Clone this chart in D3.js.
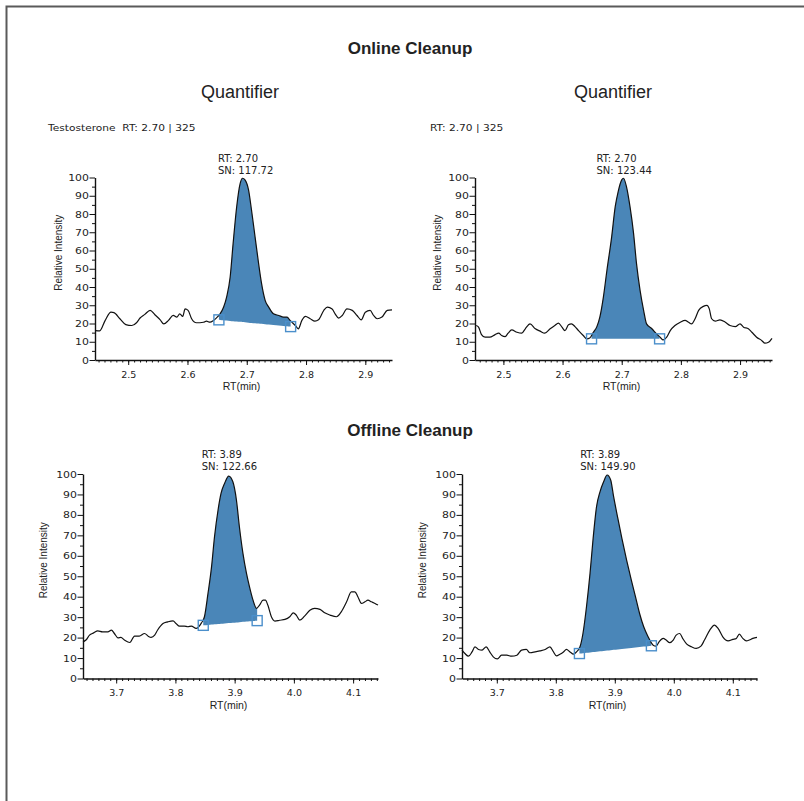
<!DOCTYPE html>
<html>
<head>
<meta charset="utf-8">
<script src="https://cdn.jsdelivr.net/npm/d3@7"></script>
<style>
  body { margin: 0; background: #fff; }
  svg { display: block; }
  text { fill: #222; }
</style>
</head>
<body>
<svg id="chart" width="804" height="801"></svg>
<script>
// ---- data: [RT (min), relative intensity] ----
var onlineQuantA = [
  [2.445,16.1],[2.452,16],[2.461,21.6],[2.471,26.2],[2.476,26],[2.486,22.6],[2.496,19.4],
  [2.506,18.9],[2.514,20.4],[2.520,23],[2.528,25],[2.537,27.2],[2.545,24.8],[2.554,22],
  [2.560,19.8],[2.568,21.7],[2.576,24.4],[2.582,23.5],[2.587,25.3],[2.592,23.9],[2.596,28],
  [2.601,27.2],[2.607,22.6],[2.615,20.4],[2.627,20.7],[2.632,21.3],[2.638,20.7],[2.644,21.7],
  [2.649,23.1],[2.655,25.3],[2.661,29],[2.666,34.5],[2.672,45.5],[2.677,63.9],[2.683,84],
  [2.689,96.9],[2.693,99.6],[2.697,98.7],[2.703,93.2],[2.708,82.2],[2.714,67.5],[2.720,52.8],
  [2.725,41.8],[2.731,32.7],[2.737,29],[2.745,25.3],[2.754,24.4],[2.762,23.5],[2.768,23.5],
  [2.773,21.7],[2.782,18.9],[2.787,17.1],[2.793,21.7],[2.799,23.9],[2.807,22.6],[2.815,21.3],
  [2.821,22],[2.830,27.2],[2.836,29],[2.844,28],[2.849,25.3],[2.855,23],[2.861,24.4],
  [2.869,28],[2.878,27.2],[2.886,24.4],[2.893,22],[2.900,26.2],[2.908,27.2],[2.914,24.4],
  [2.920,22.6],[2.928,23.5],[2.937,27.2],[2.945,27.5]
];
var onlineQuantB = [
  [2.454,18.9],[2.458,18],[2.463,13.9],[2.469,12.5],[2.477,12.5],[2.486,13.9],[2.492,14.7],
  [2.497,13.4],[2.503,12.8],[2.508,14.7],[2.514,16.5],[2.523,15.2],[2.531,14.7],[2.537,17.1],
  [2.545,19.8],[2.554,17.1],[2.562,15.8],[2.570,14.7],[2.579,17.1],[2.587,18.9],[2.593,20.2],
  [2.599,18],[2.604,16.1],[2.610,19.3],[2.615,19.8],[2.621,18.3],[2.627,16.1],[2.635,13.4],
  [2.641,11.6],[2.646,12.1],[2.652,15.2],[2.658,18.3],[2.663,23.5],[2.669,34.5],[2.675,49.2],
  [2.683,67.5],[2.689,84],[2.694,92.3],[2.700,98.7],[2.703,99.6],[2.708,95],[2.714,84],
  [2.720,69.4],[2.725,52.8],[2.731,38.2],[2.737,27.2],[2.742,19.8],[2.751,17.1],[2.759,14.3],
  [2.765,12.5],[2.770,11],[2.776,12.5],[2.782,16.1],[2.790,18.9],[2.799,20.7],[2.807,21.7],
  [2.813,20.7],[2.818,19.8],[2.824,22.6],[2.830,27.2],[2.838,29.4],[2.844,29.9],[2.848,28],
  [2.852,22.6],[2.858,21.3],[2.866,22],[2.875,20.7],[2.883,18.9],[2.892,18.3],[2.900,19.8],
  [2.906,18],[2.914,17.1],[2.920,15.2],[2.928,12.5],[2.937,10.6],[2.942,9.2],[2.948,9.7],
  [2.954,11.9]
];
var offlineQuantA = [
  [3.644,17.9],[3.649,18.8],[3.655,21.2],[3.662,22.3],[3.669,23.3],[3.677,22.8],[3.686,22.8],
  [3.692,23.7],[3.697,22],[3.703,19.9],[3.708,20.1],[3.714,18.8],[3.723,17.6],[3.731,20.7],
  [3.739,20.7],[3.748,22],[3.754,20.7],[3.759,20.1],[3.765,21.2],[3.770,23.7],[3.779,26.9],
  [3.787,27.7],[3.796,28.2],[3.801,26.9],[3.807,25.6],[3.815,25.6],[3.821,25.3],[3.827,25.6],
  [3.835,24.5],[3.844,27.2],[3.849,30.2],[3.855,41.6],[3.861,54.6],[3.866,69.3],[3.872,82.4],
  [3.877,90.5],[3.883,95.4],[3.890,99],[3.897,96.2],[3.903,87.3],[3.908,74.2],[3.914,61.2],
  [3.920,51.4],[3.925,44.9],[3.931,38.3],[3.937,34.3],[3.942,35.9],[3.948,38.3],[3.952,38.3],
  [3.956,35.9],[3.962,30.2],[3.968,28.1],[3.976,28.5],[3.985,28.9],[3.993,30.2],[3.999,32.1],
  [4.004,31],[4.010,28.5],[4.018,30.5],[4.027,33.4],[4.035,34.3],[4.044,33.8],[4.052,32.1],
  [4.061,31],[4.072,30.2],[4.080,32.6],[4.089,37.5],[4.097,42.4],[4.103,42.4],[4.108,40],
  [4.114,36.7],[4.120,37.5],[4.125,38.3],[4.131,37.5],[4.137,36.7],[4.142,35.9]
];
var offlineQuantB = [
  [3.641,13.9],[3.646,12.2],[3.652,10.9],[3.658,13],[3.663,15.5],[3.669,14.2],[3.675,13.9],
  [3.682,15.5],[3.688,13],[3.694,10.6],[3.701,9.6],[3.708,11.4],[3.717,11.4],[3.725,10.9],
  [3.734,11.4],[3.742,13.9],[3.750,14.2],[3.756,12.6],[3.765,13],[3.773,13.5],[3.782,14.2],
  [3.790,15.5],[3.796,13],[3.801,11.1],[3.807,11.9],[3.813,13],[3.818,14.2],[3.824,13],
  [3.830,11.9],[3.835,13],[3.841,15.5],[3.846,22],[3.852,35.1],[3.858,51.4],[3.863,67.7],
  [3.869,84],[3.875,91.4],[3.881,96.2],[3.887,99.5],[3.893,97.1],[3.898,88.9],[3.905,78.5],
  [3.912,68.5],[3.920,57.9],[3.928,48.1],[3.935,40],[3.942,31.8],[3.949,25.3],[3.956,20.7],
  [3.965,16.3],[3.970,15.8],[3.975,17.9],[3.982,19.6],[3.987,18.8],[3.993,17.5],[3.999,18.8],
  [4.004,21.2],[4.010,22],[4.015,19.6],[4.022,16.8],[4.030,15.5],[4.038,14.7],[4.046,15.8],
  [4.052,18.8],[4.061,23.7],[4.069,26.1],[4.075,24.5],[4.083,20.4],[4.092,18.4],[4.100,19.1],
  [4.106,19.6],[4.111,21.7],[4.117,19.6],[4.123,18.4],[4.128,18.8],[4.134,19.6],[4.141,20.1]
];

// peak integration: baseline start / end [RT, intensity], apex RT, labels
var peakStart = [[2.653,22],[2.649,11.6],[3.847,26],[3.840,12.2]];
var peakEnd   = [[2.774,18.3],[2.764,11.6],[3.938,28.3],[3.962,16]];
var apexRt    = [2.697, 2.703, 3.890, 3.887];
var rtLabels  = ['2.70', '2.70', '3.89', '3.89'];
var snLabels  = ['117.72', '123.44', '122.66', '149.90'];
var panelTitles = ['Testosterone  RT: 2.70 | 325', 'RT: 2.70 | 325', '', ''];
var xTicksOnline  = [2.5, 2.6, 2.7, 2.8, 2.9];
var xTicksOffline = [3.7, 3.8, 3.9, 4.0, 4.1];
var yTicks = [0, 10, 20, 30, 40, 50, 60, 70, 80, 90, 100];

// ---- layout ----
var panels = [
  { trace: onlineQuantA,  dom: [2.444, 2.945], xr: [95, 392],  yr: [360, 177.5], ticks: xTicksOnline,  ylab: 58,  tx: 48 },
  { trace: onlineQuantB,  dom: [2.452, 2.954], xr: [475, 772], yr: [360, 177.5], ticks: xTicksOnline,  ylab: 437, tx: 430 },
  { trace: offlineQuantA, dom: [3.644, 4.142], xr: [83, 378],  yr: [678.5, 474], ticks: xTicksOffline, ylab: 43,  tx: 0 },
  { trace: offlineQuantB, dom: [3.641, 4.141], xr: [462, 757], yr: [678.5, 474], ticks: xTicksOffline, ylab: 422, tx: 0 }
];

var svg = d3.select('#chart');
var smallFont = '"DejaVu Sans", sans-serif';
var plainFont = '"Liberation Sans", Arial, sans-serif';

// page frame (left and top edge only)
svg.append('path')
  .attr('d', 'M6.5,801V6.5H804')
  .attr('fill', 'none')
  .attr('stroke', '#5a5a5a')
  .attr('stroke-width', 2);

// headings
svg.append('text').attr('x', 410).attr('y', 54).attr('text-anchor', 'middle')
  .style('font', 'bold 17px ' + plainFont).text('Online Cleanup');
svg.append('text').attr('x', 410).attr('y', 436).attr('text-anchor', 'middle')
  .style('font', 'bold 17px ' + plainFont).text('Offline Cleanup');
svg.append('text').attr('x', 240).attr('y', 98).attr('text-anchor', 'middle')
  .style('font', '18px ' + plainFont).text('Quantifier');
svg.append('text').attr('x', 613).attr('y', 98).attr('text-anchor', 'middle')
  .style('font', '18px ' + plainFont).text('Quantifier');

panels.forEach(function (p, i) {
  var x = d3.scaleLinear().domain(p.dom).range(p.xr);
  var y = d3.scaleLinear().domain([0, 100]).range(p.yr);
  var g = svg.append('g');

  // integrated peak area
  var base = d3.scaleLinear().domain([peakStart[i][0], peakEnd[i][0]]).range([peakStart[i][1], peakEnd[i][1]]);
  var inside = p.trace.filter(function (d) { return d[0] > peakStart[i][0] && d[0] < peakEnd[i][0]; });
  var interp = function (rt) {
    var k = d3.bisector(function (d) { return d[0]; }).left(p.trace, rt);
    var a = p.trace[Math.max(k - 1, 0)], b = p.trace[Math.min(k, p.trace.length - 1)];
    if (a[0] === b[0]) return a[1];
    return a[1] + (b[1] - a[1]) * (rt - a[0]) / (b[0] - a[0]);
  };
  var areaPts = [[peakStart[i][0], interp(peakStart[i][0])]].concat(inside, [[peakEnd[i][0], interp(peakEnd[i][0])]]);
  g.append('path')
    .datum(areaPts)
    .attr('fill', '#4a86b8')
    .attr('d', d3.area()
      .x(function (d) { return x(d[0]); })
      .y0(function (d) { return y(base(d[0])); })
      .y1(function (d) { return y(Math.max(d[1], base(d[0]))); })
      .curve(d3.curveMonotoneX));

  // trace
  g.append('path')
    .datum(p.trace)
    .attr('fill', 'none')
    .attr('stroke', '#111')
    .attr('stroke-width', 1.2)
    .attr('stroke-linejoin', 'round')
    .attr('d', d3.line()
      .x(function (d) { return x(d[0]); })
      .y(function (d) { return y(d[1]); })
      .curve(d3.curveMonotoneX));

  // peak start / end markers
  g.selectAll('rect.mark')
    .data([peakStart[i], peakEnd[i]])
    .join('rect')
    .attr('class', 'mark')
    .attr('x', function (d) { return x(d[0]) - 5; })
    .attr('y', function (d) { return y(d[1]) - 5; })
    .attr('width', 10).attr('height', 10)
    .attr('fill', 'none')
    .attr('stroke', '#4b8fcb')
    .attr('stroke-width', 1.4);

  // x axis: minor ticks every 0.01, labelled every 0.1
  var minor = d3.range(Math.ceil(p.dom[0] * 100), Math.floor(p.dom[1] * 100) + 1).map(function (v) { return v / 100; });
  g.append('g').attr('transform', 'translate(0,' + p.yr[0] + ')')
    .call(d3.axisBottom(x).tickValues(minor).tickSize(2.5).tickSizeOuter(0).tickFormat(''))
    .call(function (a) { a.select('.domain').remove(); });
  var xa = g.append('g').attr('transform', 'translate(0,' + p.yr[0] + ')')
    .call(d3.axisBottom(x).tickValues(p.ticks).tickSize(5).tickSizeOuter(0).tickPadding(6).tickFormat(d3.format('.1f')));
  xa.selectAll('text').style('font', '9.5px ' + smallFont).attr('fill', '#333');

  // y axis
  g.append('g').attr('transform', 'translate(' + p.xr[0] + ',0)')
    .call(d3.axisLeft(y).tickValues(d3.range(5, 100, 10)).tickSize(3).tickFormat(''))
    .call(function (a) { a.select('.domain').remove(); });
  var ya = g.append('g').attr('transform', 'translate(' + p.xr[0] + ',0)')
    .call(d3.axisLeft(y).tickValues(yTicks).tickSize(5.5).tickSizeOuter(0).tickFormat(d3.format('d')));
  ya.selectAll('text')
    .attr('x', 0)
    .attr('transform', 'translate(-6,0) scale(1.15,1)')
    .style('font', '9.5px ' + smallFont).attr('fill', '#333');
  g.selectAll('.domain').attr('stroke', '#111').attr('stroke-width', 1.4);
  g.selectAll('.tick line').attr('stroke', '#111');

  // axis titles
  g.append('text')
    .attr('transform', 'translate(' + p.ylab + ',' + ((p.yr[0] + p.yr[1]) / 2 - 16) + ') rotate(-90)')
    .attr('text-anchor', 'middle').attr('dy', '0.35em')
    .style('font', '10px ' + plainFont).attr('fill', '#333')
    .text('Relative Intensity');
  g.append('text')
    .attr('x', (p.xr[0] + p.xr[1]) / 2 - 2).attr('y', p.yr[0] + 30)
    .attr('text-anchor', 'middle')
    .style('font', '10.5px ' + plainFont).attr('fill', '#333')
    .text('RT(min)');

  // compound title above the trace
  if (panelTitles[i]) {
    g.append('text')
      .attr('transform', 'translate(' + p.tx + ',130.5) scale(1.12,1)')
      .style('font', '9.5px ' + smallFont)
      .style('white-space', 'pre')
      .text(panelTitles[i]);
  }

  // apex annotation
  var ax = x(apexRt[i]) - 27;
  g.append('text').attr('x', ax).attr('y', p.yr[1] - 16)
    .style('font', '10px ' + smallFont).text('RT: ' + rtLabels[i]);
  g.append('text').attr('x', ax).attr('y', p.yr[1] - 4)
    .style('font', '10px ' + smallFont).text('SN: ' + snLabels[i]);
});
</script>
</body>
</html>
